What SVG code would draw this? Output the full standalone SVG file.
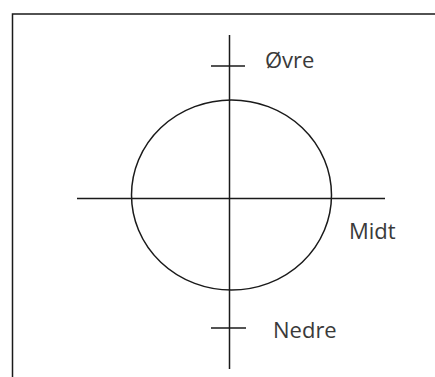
<svg xmlns="http://www.w3.org/2000/svg" width="435" height="377" viewBox="0 0 435 377">
<style>
.ln{stroke:#1a1a1a;stroke-width:1.5;fill:none}
.lbl{font-family:"Open Sans","Noto Sans",sans-serif;font-size:22px;fill:#3a3a3a}
</style>
<rect x="0" y="0" width="435" height="377" fill="#ffffff"/>
<g id="frame"><path class="ln" d="M12.5,377 V14 H435"/></g>
<g id="circle"><ellipse class="ln" cx="231.5" cy="195" rx="100" ry="95"/></g>
<g id="connectors">
<line class="ln" x1="229.5" y1="35" x2="229.5" y2="369"/>
<line class="ln" x1="77" y1="198.5" x2="385" y2="198.5"/>
<line class="ln" x1="211" y1="66" x2="245" y2="66"/>
<line class="ln" x1="211" y1="328" x2="246" y2="328"/>
</g>
<g id="ovre"><text class="lbl" x="265" y="68">Øvre</text></g>
<g id="midt"><text class="lbl" x="349" y="239">Midt</text></g>
<g id="nedre"><text class="lbl" x="273" y="337.5">Nedre</text></g>
</svg>
